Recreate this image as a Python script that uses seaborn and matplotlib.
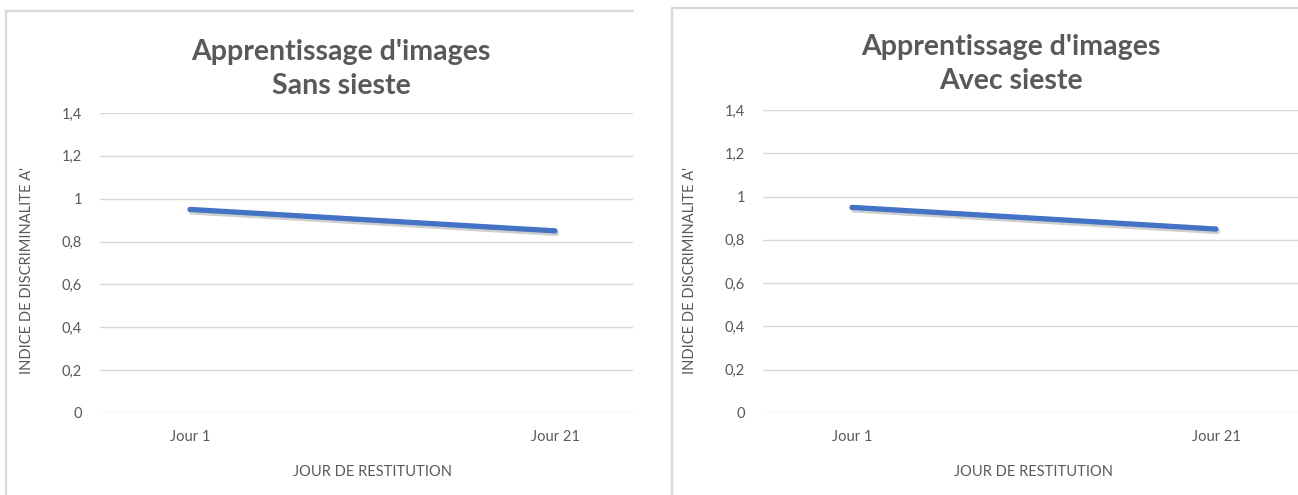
import pandas as pd
import matplotlib.pyplot as plt
import matplotlib.patheffects as pe
from matplotlib.lines import Line2D
import seaborn as sns

# Données
jours = ['Jour 1', 'Jour 21']
sans_sieste = [0.95, 0.85]
avec_sieste = [0.95, 0.85]
titres = ["Apprentissage d'images\nSans sieste", "Apprentissage d'images\nAvec sieste"]
yticks = [0, 0.2, 0.4, 0.6, 0.8, 1, 1.2, 1.4]
yticklabels = ['0', '0,2', '0,4', '0,6', '0,8', '1', '1,2', '1,4']

sns.set_theme(style='white')
plt.rcParams['font.family'] = ['Lato', 'DejaVu Sans']

W, H = 1298, 495
fig = plt.figure(figsize=(W / 100, H / 100), dpi=100)
gris = '#595959'


def fx(x):
    return x / W


def fy(y):
    return 1 - y / H


def panneau(x0, x1, ytop, ybot, xj1, xj21, cadre_x, cadre_y, cadre_x1, titre_x, titre_y, valeurs, titre):
    ax = fig.add_axes([fx(x0), fy(ybot), fx(x1 - x0), (ybot - ytop) / H])
    df = pd.DataFrame({'jour': jours, 'valeur': valeurs})
    sns.lineplot(data=df, x='jour', y='valeur', ax=ax, color='#4472C4', linewidth=3.8,
                 solid_capstyle='round',
                 path_effects=[pe.SimpleLineShadow(offset=(1, -1.8), shadow_color='#888888', alpha=0.4),
                               pe.Normal()])
    scale = xj21 - xj1
    ax.set_xlim((x0 - xj1) / scale, (x1 - xj1) / scale)
    ax.set_ylim(0, 1.4)
    ax.set_yticks(yticks)
    ax.set_yticklabels(yticklabels)
    ax.grid(axis='y', color='#D9D9D9', linewidth=1.0)
    ax.grid(axis='x', visible=False)
    for s in ax.spines.values():
        s.set_visible(False)
    ax.tick_params(axis='y', length=0, pad=13, labelsize=10.5, labelcolor=gris)
    ax.tick_params(axis='x', length=0, pad=12, labelsize=10.5, labelcolor=gris)
    ax.set_ylabel("INDICE DE DISCRIMINALITE A'", fontsize=10.5, color=gris, va='center')
    ax.yaxis.set_label_coords(-73 / (x1 - x0), 0.5 - (270 - (ytop + ybot) / 2) / (ybot - ytop))
    ax.set_xlabel('JOUR DE RESTITUTION', fontsize=10.5, color=gris, va='center')
    ax.xaxis.set_label_coords(((xj1 + xj21) / 2 - x0) / (x1 - x0), -59 / (ybot - ytop))
    fig.text(fx(titre_x), fy(titre_y), titre, ha='center', va='center', fontsize=20.5,
             fontweight='bold', color=gris, linespacing=1.4)
    # cadre du graphique
    fig.add_artist(Line2D([fx(cadre_x), fx(cadre_x1)], [fy(cadre_y), fy(cadre_y)],
                          color='#D9D9D9', linewidth=1.6, transform=fig.transFigure))
    fig.add_artist(Line2D([fx(cadre_x), fx(cadre_x)], [fy(cadre_y), 0],
                          color='#D9D9D9', linewidth=1.6, transform=fig.transFigure))
    return ax


panneau(100, 633, 113, 413, 190, 555, 6, 11, 633, 341, 69, sans_sieste, titres[0])
panneau(763, 1298, 110, 413, 852, 1216, 672, 8, 1298, 1011, 64, avec_sieste, titres[1])

plt.savefig('out.png', dpi=100)
